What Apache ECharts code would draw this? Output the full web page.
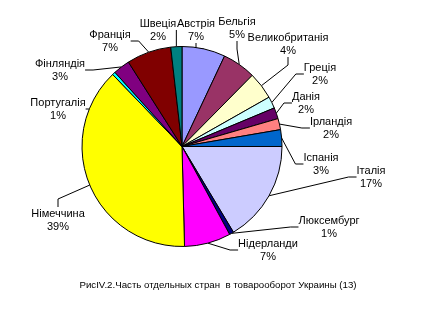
<!DOCTYPE html>
<html><head><meta charset="utf-8">
<script src="https://cdn.jsdelivr.net/npm/echarts@6/dist/echarts.min.js"></script>
<style>html,body{margin:0;padding:0;background:#fff}#c{width:436px;height:327px}</style>
</head><body><div id="c"></div>
<script>
const categories = ['Австрія','Бельгія','Великобританія','Греція','Данія','Ірландія','Іспанія','Італія','Люксембург','Нідерланди','Німеччина','Португалія','Фінляндія','Франція','Швеція'];
// shares
const values = [7.0,5.4,4.4,1.9,1.8,1.8,2.7,16.4,0.7,7.5,38.2,0.5,2.7,7.2,1.8];
// percentage labels as printed on the chart
const pctLabels = ['7%','5%','4%','2%','2%','2%','3%','17%','1%','7%','39%','1%','3%','7%','2%'];
const colors = ['#9999FF','#993366','#FFFFCC','#CCFFFF','#660066','#FF8080','#0066CC','#CCCCFF','#000080','#FF00FF','#FFFF00','#00FFFF','#800080','#800000','#008080'];
const title = 'РисIV.2.Часть отдельных стран  в товарооборот Украины (13)';
// label anchor positions (text block centres)
const labelPos = [[196,30],[237,28],[288,44],[320,74],[306,103],[331,128],[321,164],[371,177],[329,227],[268,250],[58,220],[58,109],[60,70],[110,41],[158,30]];

const chart = echarts.init(document.getElementById('c'), null, {renderer:'canvas'});
chart.setOption({
  animation:false,
  backgroundColor:'#fff',
  title:{text:title,left:213,top:275,textAlign:'center',textStyle:{fontFamily:'Liberation Sans',fontSize:9.7,fontWeight:'normal',color:'#000'}},
  series:[{
    type:'pie',
    center:[182,146.5],
    radius:100,
    startAngle:90,
    clockwise:true,
    avoidLabelOverlap:false,
    itemStyle:{borderColor:'#000',borderWidth:1},
    emphasis:{disabled:true},
    label:{show:true,position:'outside',color:'#000',fontFamily:'Liberation Sans',fontSize:11,lineHeight:13,align:'center',
      formatter:p=>p.name+'\n'+pctLabels[p.dataIndex]},
    labelLine:{show:true,length:8,length2:8,smooth:false,lineStyle:{color:'#000',width:1}},
    labelLayout:function(p){const q=labelPos[p.dataIndex];return {x:q[0],y:q[1],align:'center',verticalAlign:'middle',hideOverlap:false};},
    data:categories.map((n,i)=>({name:n,value:values[i],itemStyle:{color:colors[i]}}))
  }]
});
</script></body></html>
